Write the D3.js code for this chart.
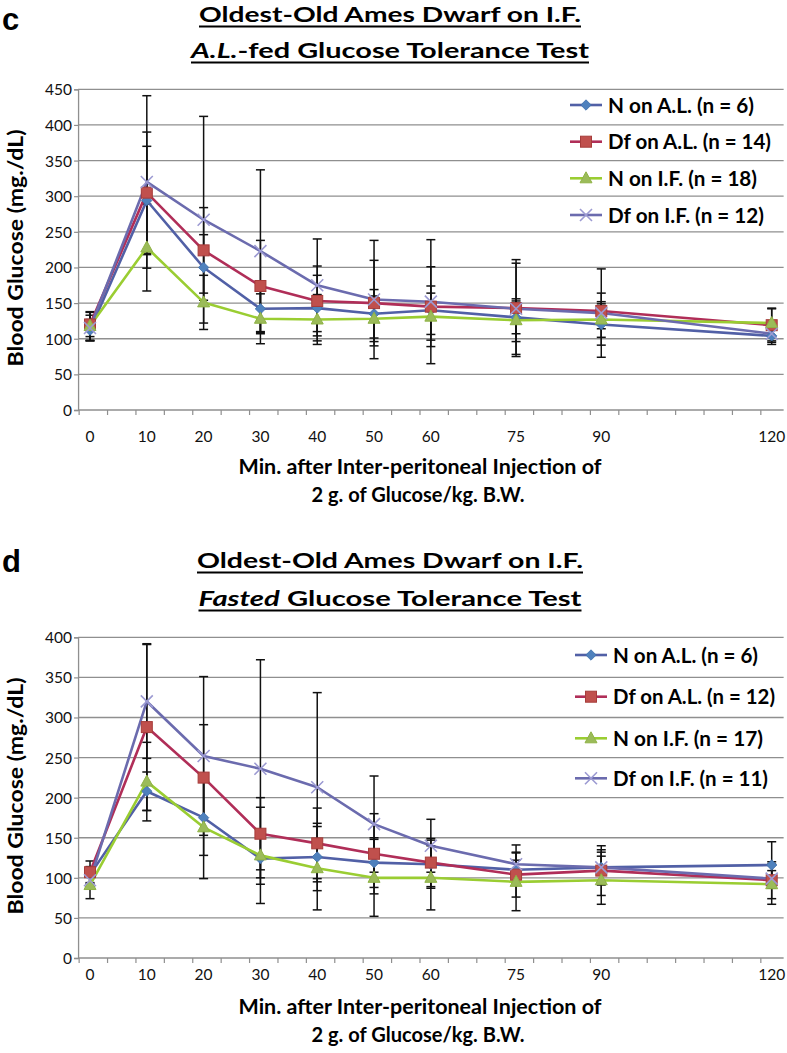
<!DOCTYPE html>
<html>
<head>
<meta charset="utf-8">
<script src="https://cdn.jsdelivr.net/npm/d3@7"></script>
<style>
  html, body { margin: 0; padding: 0; background: #fff; }
  svg { display: block; font-family: Lato, "Open Sans", sans-serif; }
</style>
</head>
<body>
<svg id="chart" width="787" height="1053"></svg>
<script>
// ---------------- DATA ----------------
const minutes = [0, 10, 20, 30, 40, 50, 60, 75, 90, 120];
const xTickLabels = ["0", "10", "20", "30", "40", "50", "60", "75", "90", "120"];

// Panel c: A.L.-fed GTT
const namesC = ["N on A.L. (n = 6)", "Df on A.L. (n = 14)", "N on I.F. (n = 18)", "Df on I.F. (n = 12)"];
const cNonAL   = [112, 294, 200, 142, 143, 135, 140, 130, 120, 104];
const cDfonAL  = [120, 305, 224, 174, 153, 150, 145, 143, 139, 119];
const cNonIF   = [118, 228, 151, 128, 127, 128, 131, 126, 127, 122];
const cDfonIF  = [115, 320, 267, 223, 175, 155, 152, 142, 136, 107];
const cErrNonAL  = [15, 76, 46, 35, 46, 34, 34, 23, 29, 12];
const cErrDfonAL = [17, 85, 60, 64, 49, 60, 56, 68, 25, 24];
const cErrNonIF  = [20, 61, 38, 35, 35, 32, 33, 30, 25, 20];
const cErrDfonIF = [18, 121, 145, 114, 65, 83, 87, 64, 62, 10];
const yTicksC = [0, 50, 100, 150, 200, 250, 300, 350, 400, 450];

// Panel d: Fasted GTT
const namesD = ["N on A.L. (n = 6)", "Df on A.L. (n = 12)", "N on I.F. (n = 17)", "Df on I.F. (n = 11)"];
const dNonAL   = [104, 208, 175, 124, 126, 119, 117, 110, 113, 116];
const dDfonAL  = [107, 288, 225, 155, 143, 130, 119, 104, 109, 97];
const dNonIF   = [91, 220, 163, 128, 112, 100, 100, 95, 97, 92];
const dDfonIF  = [97, 320, 252, 236, 213, 167, 140, 117, 113, 99];
const dErrNonAL  = [10, 24, 47, 32, 42, 31, 30, 12, 19, 29];
const dErrDfonAL = [14, 104, 66, 45, 44, 50, 30, 28, 31, 23];
const dErrNonIF  = [17, 49, 64, 60, 52, 48, 40, 36, 30, 25];
const dErrDfonIF = [8, 71, 99, 136, 118, 60, 33, 24, 22, 10];
const yTicksD = [0, 50, 100, 150, 200, 250, 300, 350, 400];

const yAxisTitle = "Blood Glucose (mg./dL)";
const xTitle1 = "Min. after Inter-peritoneal Injection of";
const xTitle2 = "2 g. of Glucose/kg. B.W.";

// ---------------- STYLE ----------------
const styles = [
  { line: "#5160a6", fill: "#4f81bd", stroke: "#3f6fab", marker: "diamond" },
  { line: "#b02e58", fill: "#c0504d", stroke: "#a63c3a", marker: "square" },
  { line: "#9acd32", fill: "#9bbb59", stroke: "#8fb345", marker: "triangle" },
  { line: "#6b6bae", fill: "none",    stroke: "#9c9ad2", marker: "x" }
];

const svg = d3.select("#chart");

function drawMarker(g, type, st, cx, cy) {
  if (type === "diamond") {
    const r = 5.2;
    g.append("path").attr("d", `M${cx},${cy - r}L${cx + r},${cy}L${cx},${cy + r}L${cx - r},${cy}Z`)
      .attr("fill", st.fill).attr("stroke", st.stroke).attr("stroke-width", 0.8);
  } else if (type === "square") {
    g.append("rect").attr("x", cx - 5.5).attr("y", cy - 5.5).attr("width", 11).attr("height", 11)
      .attr("fill", st.fill).attr("stroke", st.stroke).attr("stroke-width", 1);
  } else if (type === "triangle") {
    g.append("path").attr("d", `M${cx},${cy - 6.5}L${cx + 6},${cy + 4.5}L${cx - 6},${cy + 4.5}Z`)
      .attr("fill", st.fill).attr("stroke", st.stroke).attr("stroke-width", 1);
  } else {
    const r = 6;
    g.append("path").attr("d", `M${cx - r},${cy - r}L${cx + r},${cy + r}M${cx - r},${cy + r}L${cx + r},${cy - r}`)
      .attr("fill", "none").attr("stroke", st.stroke).attr("stroke-width", 1.6);
  }
}

function drawPanel(cfg) {
  const g = svg.append("g");
  const x = d3.scaleLinear().domain([0, 120]).range([90, 771.7]);
  const y = d3.scaleLinear().domain([0, cfg.yMax]).range([cfg.bottom, cfg.top]);
  const xLeft = x(-2.1), xRight = x(122.1);

  // panel letter
  g.append("text").attr("x", 2).attr("y", cfg.letterY).text(cfg.letter)
    .attr("font-family", "Liberation Sans, Arial, sans-serif")
    .attr("font-weight", "bold").attr("font-size", 31).attr("fill", "#000");

  // titles
  const tcx = 390;
  cfg.titles.forEach((t, i) => {
    const txt = g.append("text").attr("x", tcx).attr("y", t.y).attr("text-anchor", "middle")
      .attr("font-weight", "bold").attr("font-size", 21).attr("fill", "#000")
      .attr("textLength", t.w).attr("lengthAdjust", "spacingAndGlyphs");
    t.parts.forEach(p => {
      txt.append("tspan").text(p.s).attr("font-style", p.it ? "italic" : "normal");
    });
    g.append("line").attr("x1", tcx - t.w / 2).attr("x2", tcx + t.w / 2)
      .attr("y1", t.y + 4.5).attr("y2", t.y + 4.5).attr("stroke", "#000").attr("stroke-width", 2.2);
  });

  // gridlines
  g.append("g").selectAll("line").data(cfg.yTicks.filter(v => v > 0)).join("line")
    .attr("x1", xLeft).attr("x2", xRight)
    .attr("y1", d => y(d)).attr("y2", d => y(d))
    .attr("stroke", "#8f8f8f").attr("stroke-width", 1.3);

  // y axis
  const yAxis = d3.axisLeft(y).tickValues(cfg.yTicks).tickSize(4).tickFormat(d3.format("d"));
  const ya = g.append("g").attr("transform", `translate(${xLeft},0)`).call(yAxis);
  ya.select(".domain").attr("stroke", "#8f8f8f").attr("stroke-width", 1.3);
  ya.selectAll(".tick line").attr("stroke", "#8f8f8f").attr("stroke-width", 1.2);
  ya.selectAll(".tick text").attr("font-family", "Lato, sans-serif").attr("font-size", 15.5)
    .attr("fill", "#111").attr("x", -6).attr("dy", "0.35em");

  // x axis: minor ticks every 5 from axis start
  const xTickVals = d3.range(0, 25).map(k => -2 + 5 * k);
  const xAxis = d3.axisBottom(x).tickValues(xTickVals).tickSize(5).tickFormat("");
  const xa = g.append("g").attr("transform", `translate(0,${cfg.bottom})`).call(xAxis);
  xa.select(".domain").remove();
  xa.selectAll(".tick line").attr("stroke", "#8f8f8f").attr("stroke-width", 1.2);
  g.append("line").attr("x1", xLeft).attr("x2", xRight).attr("y1", cfg.bottom).attr("y2", cfg.bottom)
    .attr("stroke", "#8f8f8f").attr("stroke-width", 1.3);
  g.append("g").selectAll("text").data(minutes).join("text")
    .attr("x", d => x(d)).attr("y", cfg.bottom + cfg.xLabOff).attr("text-anchor", "middle")
    .attr("font-size", 15.5).attr("fill", "#111").text((d, i) => xTickLabels[i]);

  // axis titles
  g.append("text").attr("x", 420).attr("y", cfg.bottom + cfg.xT1).attr("text-anchor", "middle")
    .attr("font-weight", "bold").attr("font-size", 20).attr("textLength", 363)
    .attr("lengthAdjust", "spacingAndGlyphs").text(xTitle1);
  g.append("text").attr("x", 418).attr("y", cfg.bottom + cfg.xT2).attr("text-anchor", "middle")
    .attr("font-weight", "bold").attr("font-size", 20).attr("textLength", 213)
    .attr("lengthAdjust", "spacingAndGlyphs").text(xTitle2);
  g.append("text").attr("transform", `translate(23,${cfg.yTitleC}) rotate(-90)`)
    .attr("text-anchor", "middle").attr("font-weight", "bold").attr("font-size", 20.5)
    .attr("textLength", 237).attr("lengthAdjust", "spacingAndGlyphs").text(yAxisTitle);

  // error bars (under series)
  const eb = g.append("g");
  cfg.series.forEach((vals, si) => {
    const errs = cfg.errs[si];
    minutes.forEach((m, i) => {
      const cx = x(m), hi = y(vals[i] + errs[i]), lo = y(vals[i] - errs[i]);
      eb.append("line").attr("x1", cx).attr("x2", cx).attr("y1", hi).attr("y2", lo)
        .attr("stroke", "#111").attr("stroke-width", 1.5);
      [hi, lo].forEach(yy => eb.append("line").attr("x1", cx - 4.5).attr("x2", cx + 4.5)
        .attr("y1", yy).attr("y2", yy).attr("stroke", "#111").attr("stroke-width", 1.5));
    });
  });

  // series lines and markers
  const lineGen = d3.line().x((d, i) => x(minutes[i])).y(d => y(d));
  cfg.series.forEach((vals, si) => {
    const st = styles[si];
    g.append("path").datum(vals).attr("d", lineGen).attr("fill", "none")
      .attr("stroke", st.line).attr("stroke-width", 2.6).attr("stroke-linejoin", "round");
  });
  cfg.series.forEach((vals, si) => {
    const st = styles[si];
    const mg = g.append("g");
    vals.forEach((v, i) => drawMarker(mg, st.marker, st, x(minutes[i]), y(v)));
  });

  // legend
  cfg.names.forEach((nm, i) => {
    const st = styles[i];
    const ly = cfg.legY[i];
    g.append("line").attr("x1", cfg.legX).attr("x2", cfg.legX + 32).attr("y1", ly).attr("y2", ly)
      .attr("stroke", st.line).attr("stroke-width", 2.6);
    drawMarker(g, st.marker, st, cfg.legX + 16, ly);
    g.append("text").attr("x", cfg.legX + 38).attr("y", ly).attr("dy", "0.36em")
      .attr("font-weight", "bold").attr("font-size", 21).attr("fill", "#000")
      .attr("textLength", cfg.legW[i]).attr("lengthAdjust", "spacingAndGlyphs").text(nm);
  });
}

drawPanel({
  letter: "c", letterY: 30,
  titles: [
    { y: 22, w: 382, parts: [{ s: "Oldest-Old Ames Dwarf on I.F.", it: false }] },
    { y: 58, w: 398, parts: [{ s: "A.L.", it: true }, { s: "-fed Glucose Tolerance Test", it: false }] }
  ],
  top: 89.3, bottom: 410, yMax: 450, yTicks: yTicksC,
  xLabOff: 32, xT1: 64, xT2: 92, yTitleC: 248,
  series: [cNonAL, cDfonAL, cNonIF, cDfonIF],
  errs: [cErrNonAL, cErrDfonAL, cErrNonIF, cErrDfonIF],
  names: namesC, legX: 570, legY: [105, 141.7, 178.3, 215], legW: [146, 163, 149, 156]
});

drawPanel({
  letter: "d", letterY: 572,
  titles: [
    { y: 568, w: 386, parts: [{ s: "Oldest-Old Ames Dwarf on I.F.", it: false }] },
    { y: 606, w: 383, parts: [{ s: "Fasted", it: true }, { s: " Glucose Tolerance Test", it: false }] }
  ],
  top: 637.3, bottom: 958, yMax: 400, yTicks: yTicksD,
  xLabOff: 22, xT1: 56, xT2: 84, yTitleC: 796,
  series: [dNonAL, dDfonAL, dNonIF, dDfonIF],
  errs: [dErrNonAL, dErrDfonAL, dErrNonIF, dErrDfonIF],
  names: namesD, legX: 575, legY: [655, 696.7, 738.3, 778.3], legW: [145, 162, 150, 155]
});
</script>
</body>
</html>
